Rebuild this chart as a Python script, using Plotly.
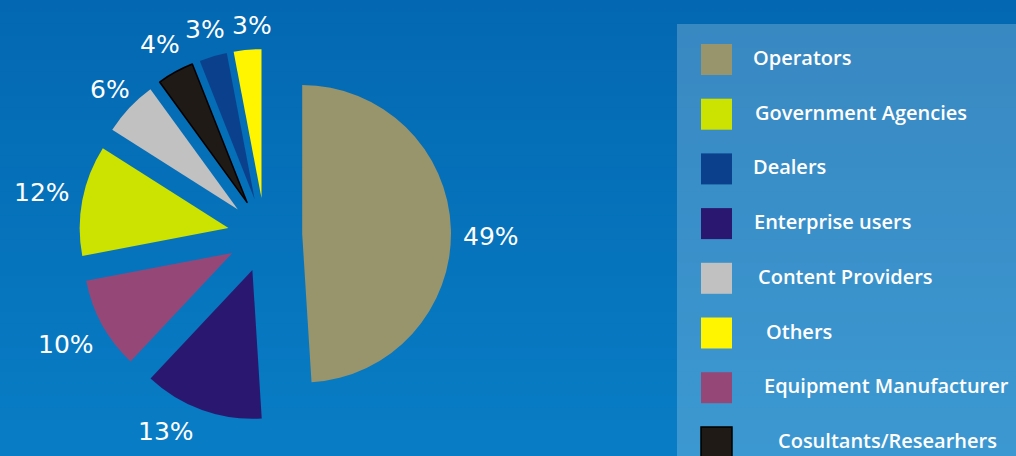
import math
import plotly.graph_objects as go

# ---- data ----
labels = ["Operators", "Enterprise users", "Equipment Manufacturer", "Government Agencies",
          "Content Providers", "Cosultants/Researhers", "Dealers", "Others"]
values = [49, 13, 10, 12, 6, 4, 3, 3]
colors = ["#98946b", "#2a1870", "#954877", "#cce200",
          "#c1c1c1", "#201a17", "#0b408c", "#fff500"]
legend_order = ["Operators", "Government Agencies", "Dealers", "Enterprise users",
                "Content Providers", "Others", "Equipment Manufacturer", "Cosultants/Researhers"]

# ---- layout constants (styles / positions) ----
W, H = 1016, 456
FONT = "Open Sans"
LABEL_FONT = "DejaVu Sans"
LABEL_SIZE = 25
PULL = 0.25
color_of = dict(zip(labels, colors))
line_w = [1.5 if l == "Cosultants/Researhers" else 0 for l in labels]

# pie geometry in pixels
cx, cy, box = 265, 235, 372
r = box / (2 * (1 + PULL))          # plotly's radius for a pulled pie
dom_x = [(cx - box / 2) / W, (cx + box / 2) / W]
dom_y = [1 - (cy + box / 2) / H, 1 - (cy - box / 2) / H]

fig = go.Figure()
fig.add_trace(go.Pie(
    labels=labels, values=values, sort=False, direction="clockwise", rotation=0,
    pull=[PULL] * len(values),
    marker=dict(colors=colors, line=dict(color="#000000", width=line_w)),
    textinfo="none",
    domain=dict(x=dom_x, y=dom_y),
    showlegend=False, hoverinfo="label+percent",
))

shapes = []
annotations = []

# percentage labels placed around the pie from each slice's mid-angle
total = sum(values)
label_nudge_deg = {"Operators": 2.3, "Enterprise users": 7, "Others": 1.8}
label_gap = {"Content Providers": -8}
R0 = r * (1 + PULL) + 12
cum = 0
for lab, v in zip(labels, values):
    mid = (cum + v / 2) / total * 360 + label_nudge_deg.get(lab, 0)
    cum += v
    txt = "%d%%" % round(100 * v / total)
    sx, sy = math.sin(math.radians(mid)), -math.cos(math.radians(mid))
    hw = (len(txt) - 1) * 0.636 * LABEL_SIZE / 2 + 0.95 * LABEL_SIZE / 2
    hh = 11
    d = R0 + label_gap.get(lab, 0) + abs(sx) * hw + abs(sy) * hh
    px, py = cx + d * sx, cy + d * sy
    annotations.append(dict(xref="paper", yref="paper", x=px / W, y=1 - py / H, text=txt,
                            showarrow=False, xanchor="center", yanchor="middle",
                            font=dict(family=LABEL_FONT, size=LABEL_SIZE, color="white")))

# background vertical gradient
top_c = (3, 104, 177)
bot_c = (8, 125, 197)
n = 38
for i in range(n):
    t = i / (n - 1)
    c = tuple(round(top_c[k] + (bot_c[k] - top_c[k]) * t) for k in range(3))
    y0 = 1 - i / n
    y1 = 1 - (i + 1) / n
    shapes.append(dict(type="rect", xref="paper", yref="paper", x0=0, x1=1, y0=y1, y1=y0 + 0.001,
                       fillcolor="rgb(%d,%d,%d)" % c, line=dict(width=0), layer="below"))

# legend panel
shapes.append(dict(type="rect", xref="paper", yref="paper", x0=677 / W, x1=1.01, y0=-0.01, y1=1 - 24 / H,
                   fillcolor="rgba(255,255,255,0.21)", line=dict(width=0), layer="below"))

sw_x0, sw_size, first_top, step = 701, 31, 44, 54.7
text_x = [751, 753, 751, 752, 756, 764, 762, 776]
for i, lab in enumerate(legend_order):
    top = first_top + step * i
    lw = 1.5 if lab == "Cosultants/Researhers" else 0
    shapes.append(dict(type="rect", xref="paper", yref="paper",
                       x0=sw_x0 / W, x1=(sw_x0 + sw_size) / W,
                       y0=1 - (top + sw_size) / H, y1=1 - top / H,
                       fillcolor=color_of[lab], line=dict(width=lw, color="#000000"), layer="above"))
    annotations.append(dict(xref="paper", yref="paper", x=text_x[i] / W, y=1 - (top + sw_size / 2 - 2) / H,
                            text=lab, showarrow=False, xanchor="left", yanchor="middle",
                            font=dict(family=FONT, size=20, color="white", weight=600)))

fig.update_layout(
    width=W, height=H, autosize=False,
    margin=dict(l=0, r=0, t=0, b=0, autoexpand=False),
    paper_bgcolor="#0670b8", plot_bgcolor="rgba(0,0,0,0)",
    shapes=shapes, annotations=annotations, showlegend=False,
)

fig.write_html("out.html")
